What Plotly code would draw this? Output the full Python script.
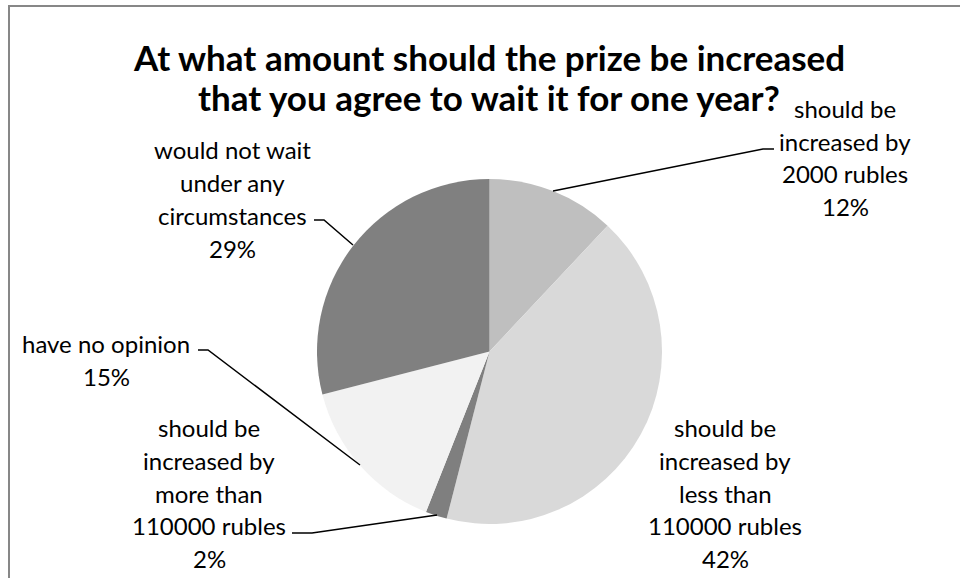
import plotly.graph_objects as go

W, H = 960, 578

categories = [
    "should be<br>increased by<br>2000 rubles",
    "should be<br>increased by<br>less than<br>110000 rubles",
    "should be<br>increased by<br>more than<br>110000 rubles",
    "have no opinion",
    "would not wait<br>under any<br>circumstances",
]
values = [12, 42, 2, 15, 29]
colors = ["#bfbfbf", "#d9d9d9", "#7f7f7f", "#f2f2f2", "#808080"]

title_lines = ["At what amount should the prize be increased",
               "that you agree to wait it for one year?"]

FONT = "Lato"
LINE_H = 32.8


def px(x, y):
    return x / W, 1 - y / H


# pie geometry (pixels)
cx, cy, r = 489.5, 351.5, 172.5
x0, y0 = px(cx - r, cy + r)
x1, y1 = px(cx + r, cy - r)

fig = go.Figure(go.Pie(
    labels=[c.replace("<br>", " ") for c in categories],
    values=values,
    sort=False,
    direction="clockwise",
    rotation=0,
    marker=dict(colors=colors, line=dict(width=0)),
    textinfo="none",
    hoverinfo="label+percent",
    showlegend=False,
    domain=dict(x=[x0, x1], y=[y0, y1]),
))

# label placement (pixel centres) and leader lines
label_pos = [(845, 157.5), (725, 493), (209, 493), (106, 360), (232, 199)]
leaders = [
    [(553, 191), (763, 149), (774, 149)],
    None,
    [(437, 515), (312, 533), (292, 533)],
    [(360, 465), (208, 350), (198, 350)],
    [(353, 245), (324, 220), (314, 220)],
]

annotations = []
shapes = []
for cat, val, (lx, ly), lead in zip(categories, values, label_pos, leaders):
    lines = cat.split("<br>") + [f"{val}%"]
    n = len(lines)
    for i, line in enumerate(lines):
        yy = ly + (i - (n - 1) / 2) * LINE_H
        ax, ay = px(lx, yy)
        annotations.append(dict(
            x=ax, y=ay, xref="paper", yref="paper", text=line, showarrow=False,
            xanchor="center", yanchor="middle", align="center",
            font=dict(family=FONT, size=24, color="#000000"),
        ))
    if lead:
        path = "M " + " L ".join(f"{px(a, b)[0]},{px(a, b)[1]}" for a, b in lead)
        shapes.append(dict(type="path", path=path, xref="paper", yref="paper",
                           line=dict(color="#000000", width=1.5)))

for line, ly in zip(title_lines, [57, 97]):
    tx, ty = px(489, ly)
    annotations.append(dict(
        x=tx, y=ty, xref="paper", yref="paper", text=f"<b>{line}</b>",
        showarrow=False, xanchor="center", yanchor="middle", align="center",
        font=dict(family=FONT, size=35, color="#000000"),
    ))

# chart frame
bx0, by0 = px(9, 6)
shapes.append(dict(type="line", xref="paper", yref="paper", x0=bx0 - 1 / W, y0=by0, x1=1, y1=by0,
                   line=dict(color="#878787", width=2)))
shapes.append(dict(type="line", xref="paper", yref="paper", x0=bx0, y0=by0, x1=bx0, y1=0,
                   line=dict(color="#878787", width=2)))

fig.update_layout(
    width=W, height=H,
    margin=dict(l=0, r=0, t=0, b=0),
    paper_bgcolor="#ffffff",
    plot_bgcolor="#ffffff",
    annotations=annotations,
    shapes=shapes,
)

fig.write_html("out.html")
